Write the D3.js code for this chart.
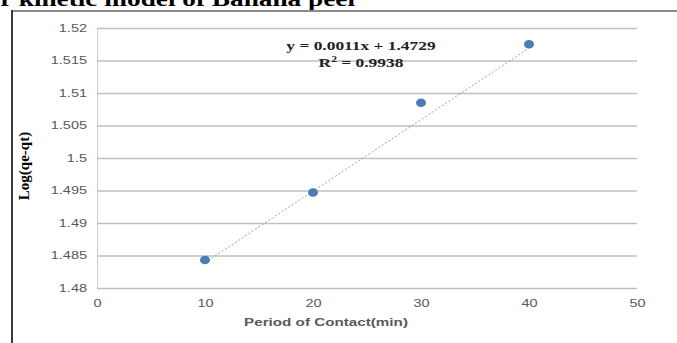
<!DOCTYPE html>
<html>
<head>
<meta charset="utf-8">
<script src="https://cdn.jsdelivr.net/npm/d3@7/dist/d3.min.js"></script>
<style>
  html, body { margin: 0; padding: 0; background: #fff; }
  svg { display: block; }
</style>
</head>
<body>
<svg id="chart" width="677" height="343"></svg>
<script>
// Contact time (min) and log(qe - qt) for the banana peel adsorbent
const contactTime = [10, 20, 30, 40];
const logQeQt = [1.4843, 1.4947, 1.5085, 1.5175];

// Axis ticks
const xTicks = [0, 10, 20, 30, 40, 50];
const yTicks = [1.48, 1.485, 1.49, 1.495, 1.5, 1.505, 1.51, 1.515, 1.52];

// Linear trendline as printed on the chart
const trendSlope = 0.0011;
const trendIntercept = 1.4729;
const trendR2 = 0.9938;

const svg = d3.select("#chart");

const plot = { left: 97, right: 637, top: 28, bottom: 288 };
// Text in this figure is set wide
const wide = 1.45;

const x = d3.scaleLinear().domain([0, 50]).range([plot.left, plot.right]);
const y = d3.scaleLinear().domain([1.48, 1.52]).range([plot.bottom, plot.top]);

const SERIF = "'Liberation Serif', 'Times New Roman', serif";
const SANS = "'Liberation Sans', Arial, sans-serif";

// Caption running along the top edge, partly above the view
const caption = svg.append("text")
  .attr("x", 0).attr("y", 0)
  .attr("text-anchor", "end")
  .attr("font-family", SERIF)
  .attr("font-weight", "bold")
  .attr("font-size", 21)
  .attr("fill", "#000")
  .text("r kinetic model of Banana peel");
const tailLen = caption.node().getComputedTextLength();
const capScale = 355 / tailLen;
caption.text("Pseudo-first order kinetic model of Banana peel")
  .attr("transform", `translate(355,6) scale(${capScale},1)`);

// Chart frame
svg.append("line")
  .attr("x1", 11).attr("x2", 677).attr("y1", 11).attr("y2", 11)
  .attr("stroke", "#8a8a8a").attr("stroke-width", 2);
svg.append("line")
  .attr("x1", 12).attr("x2", 12).attr("y1", 10).attr("y2", 343)
  .attr("stroke", "#3a3a3a").attr("stroke-width", 2);

// Stretch axis tick labels about their anchor
function widen(sel) {
  sel.each(function () {
    const t = d3.select(this);
    const tx = +t.attr("x") || 0;
    t.attr("x", 0).attr("transform", `translate(${tx},0) scale(${wide},1)`);
  });
}

// Horizontal gridlines and value labels
const yAxis = d3.axisLeft(y)
  .tickValues(yTicks)
  .tickSize(-(plot.right - plot.left))
  .tickPadding(10)
  .tickFormat(d => String(+d.toFixed(3)));

const gy = svg.append("g")
  .attr("transform", `translate(${plot.left},0)`)
  .call(yAxis);
gy.select(".domain").attr("stroke", "#d0d0d0").attr("stroke-width", 1);
gy.selectAll(".tick line").attr("stroke", "#bfbfbf").attr("stroke-width", 1.7);
gy.selectAll(".tick text")
  .attr("font-family", SANS)
  .attr("font-size", 10)
  .attr("fill", "#595959")
  .call(widen);

// Bottom axis labels
const xAxis = d3.axisBottom(x)
  .tickValues(xTicks)
  .tickSize(0)
  .tickPadding(12)
  .tickFormat(d3.format("d"));

const gx = svg.append("g")
  .attr("transform", `translate(0,${plot.bottom})`)
  .call(xAxis);
gx.select(".domain").remove();
gx.selectAll(".tick text")
  .attr("font-family", SANS)
  .attr("font-size", 10)
  .attr("fill", "#595959")
  .call(widen);

// Axis titles
svg.append("text")
  .attr("transform", `translate(326,326) scale(${wide},1)`)
  .attr("text-anchor", "middle")
  .attr("font-family", SANS)
  .attr("font-weight", "bold")
  .attr("font-size", 10.5)
  .attr("fill", "#595959")
  .text("Period of Contact(min)");

svg.append("text")
  .attr("transform", `translate(29,${(plot.top + plot.bottom) / 2 + 8}) rotate(-90)`)
  .attr("text-anchor", "middle")
  .attr("font-family", SERIF)
  .attr("font-weight", "bold")
  .attr("font-size", 15)
  .attr("fill", "#000")
  .text("Log(qe-qt)");

// Trendline across the measured range
const xMin = d3.min(contactTime), xMax = d3.max(contactTime);
svg.append("line")
  .attr("x1", x(xMin)).attr("y1", y(trendSlope * xMin + trendIntercept))
  .attr("x2", x(xMax)).attr("y2", y(trendSlope * xMax + trendIntercept))
  .attr("stroke", "#8fa4c2")
  .attr("stroke-width", 1)
  .attr("stroke-dasharray", "2,2");

// Data points
svg.append("g")
  .selectAll("ellipse")
  .data(contactTime.map((t, i) => ({ t, v: logQeQt[i] })))
  .join("ellipse")
  .attr("cx", d => x(d.t))
  .attr("cy", d => y(d.v))
  .attr("rx", 5)
  .attr("ry", 4.3)
  .attr("fill", "#4a7db8");

// Regression equation
const eq = svg.append("g")
  .attr("font-family", SERIF)
  .attr("font-weight", "bold")
  .attr("font-size", 12)
  .attr("fill", "#222")
  .attr("text-anchor", "middle");
eq.append("text")
  .attr("transform", `translate(361,50) scale(${wide},1)`)
  .text(`y = ${trendSlope.toFixed(4)}x + ${trendIntercept.toFixed(4)}`);
const r2 = eq.append("text").attr("transform", `translate(361,67) scale(${wide},1)`);
r2.append("tspan").text("R");
r2.append("tspan").attr("font-size", 8).attr("dy", -5).text("2");
r2.append("tspan").attr("dy", 5).text(` = ${trendR2.toFixed(4)}`);
</script>
</body>
</html>
